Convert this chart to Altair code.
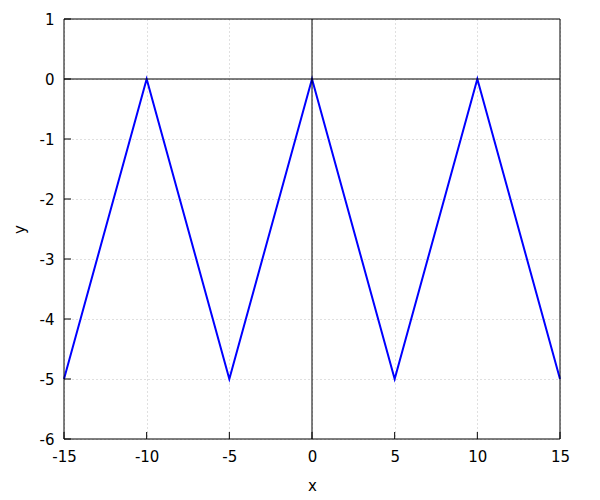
import altair as alt
import pandas as pd

xs = [-15, -10, -5, 0, 5, 10, 15]
ys = [-5, 0, -5, 0, -5, 0, -5]
x_ticks = [-15, -10, -5, 0, 5, 10, 15]
y_ticks = [-6, -5, -4, -3, -2, -1, 0, 1]

W, H = 496, 420
TL = 7
FONT = "DejaVu Sans"

xscale = alt.Scale(domain=[-15, 15], nice=False, zero=False)
yscale = alt.Scale(domain=[-6, 1], nice=False, zero=False)

xaxis = alt.Axis(
    values=x_ticks, title="x", grid=True, gridDash=[1, 3], gridColor="#c0c0c0",
    ticks=False, domain=False, labelPadding=10, titlePadding=14, labelFlush=False,
    labelExpr="'' + datum.value")
yaxis = alt.Axis(
    values=y_ticks, title="y", grid=True, gridDash=[1, 3], gridColor="#c0c0c0",
    ticks=False, domain=False, labelPadding=10, titlePadding=12, labelFlush=False,
    labelExpr="'' + datum.value")

line = alt.Chart(pd.DataFrame({"x": xs, "y": ys})).mark_line(
    color="#0000ff", strokeWidth=2
).encode(
    x=alt.X("x:Q", scale=xscale, axis=xaxis, title="x"),
    y=alt.Y("y:Q", scale=yscale, axis=yaxis, title="y"),
)

zx = alt.Chart(pd.DataFrame({"v": [0]})).mark_rule(color="black", strokeWidth=1).encode(
    x=alt.X("v:Q", scale=xscale, axis=xaxis, title="x"), y=alt.value(0), y2=alt.value(H))
zy = alt.Chart(pd.DataFrame({"v": [0]})).mark_rule(color="black", strokeWidth=1).encode(
    y=alt.Y("v:Q", scale=yscale, axis=yaxis, title="y"), x=alt.value(0), x2=alt.value(W))

xt = pd.DataFrame({"t": x_ticks})
yt = pd.DataFrame({"t": y_ticks})
tb = alt.Chart(xt).mark_rule(color="black").encode(
    x=alt.X("t:Q", scale=xscale, axis=xaxis, title="x"), y=alt.value(H), y2=alt.value(H - TL))
tl = alt.Chart(yt).mark_rule(color="black").encode(
    y=alt.Y("t:Q", scale=yscale, axis=yaxis, title="y"), x=alt.value(0), x2=alt.value(TL))

border = alt.Chart(pd.DataFrame({"b": [0]})).mark_rect(
    fill=None, filled=False, stroke="black", strokeWidth=1
).encode(x=alt.value(0), x2=alt.value(W), y=alt.value(0), y2=alt.value(H))

chart = alt.layer(line, zx, zy, tb, tl, border).properties(
    width=W, height=H,
    autosize=alt.AutoSizeParams(type="none"),
    padding={"left": 56, "top": 11, "right": 30, "bottom": 55},
).configure_view(stroke=None).configure_axis(
    labelFont=FONT, labelFontSize=15, labelColor="black",
    titleFont=FONT, titleFontSize=15, titleFontWeight="normal", titleColor="black",
)

chart.save("out.html", embed_options={"renderer": "svg", "actions": False})
